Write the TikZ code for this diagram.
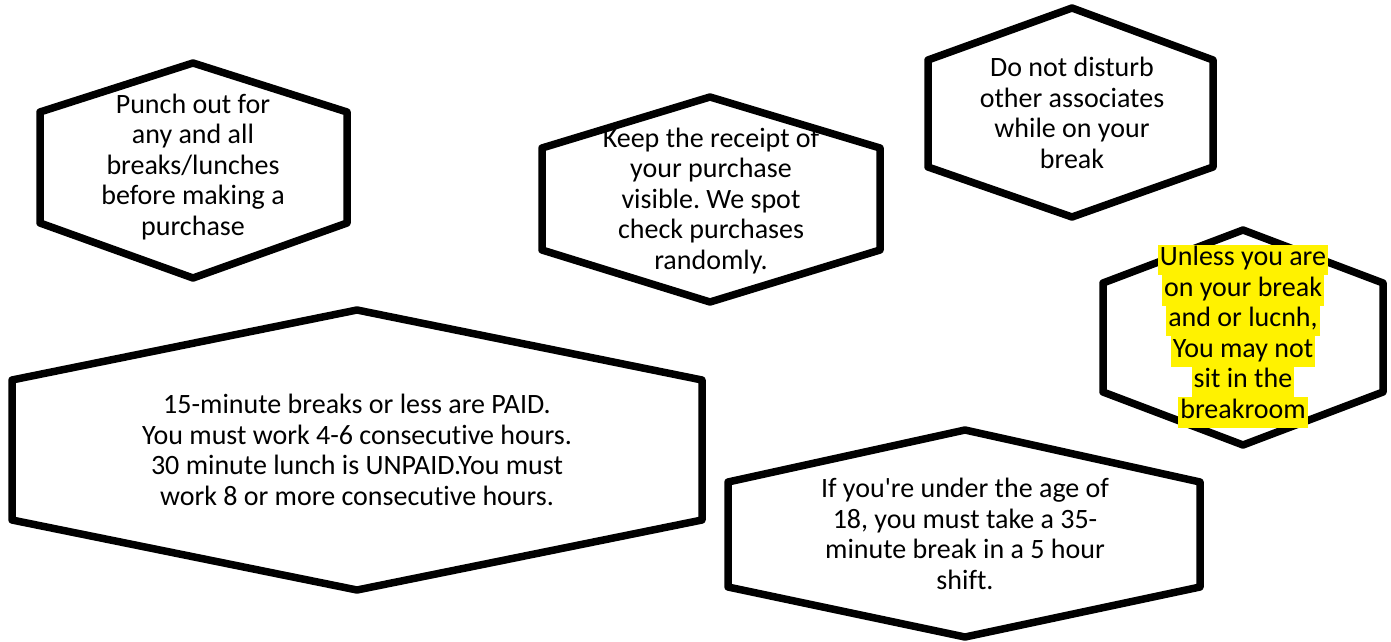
\documentclass[tikz,border=0pt]{standalone}
\usepackage{fontspec}
\setmainfont{Carlito}[Ligatures=NoCommon]
\usetikzlibrary{shadows}

% highlighted line, one box per line of text
\newcommand{\hl}[1]{{\setlength{\fboxsep}{0pt}\colorbox{yellow}{\strut\kern2pt #1\kern2pt}}}

\tikzset{
  hexa/.style={draw=black, line width=7.5pt, line join=round, fill=white,
    drop shadow={shadow xshift=1pt, shadow yshift=-3pt, opacity=0.25}},
  rule/.style={align=center, inner sep=0pt, font=\fontsize{28}{30.5}\selectfont\frenchspacing},
}

\begin{document}
\begin{tikzpicture}[x=1pt, y=-1pt]
\useasboundingbox (0,0) rectangle (1391,642);

% the six hexagons
\draw[hexa] (193,63)--(347,112)--(347,223)--(193,278)--(40,223)--(40,112)--cycle;
\draw[hexa] (710,97)--(880,148)--(880,250)--(710,302)--(542,250)--(542,148)--cycle;
\draw[hexa] (1072,8)--(1213,60)--(1213,167)--(1072,217)--(928,167)--(928,60)--cycle;
\draw[hexa] (1243,230)--(1383,283)--(1383,392)--(1243,445)--(1103,392)--(1103,283)--cycle;
\draw[hexa] (357,310)--(702,380)--(702,520)--(357,590)--(12,520)--(12,380)--cycle;
\draw[hexa] (965,430)--(1200,482)--(1200,587)--(965,637)--(728,587)--(728,482)--cycle;

% texts
\node[rule] (punch) at (193,167) {Punch out for\\any and all\\breaks/lunches\\before making a\\purchase};
\node[rule] (receipt) at (711,201) {Keep the receipt of\\your purchase\\visible. We spot\\check purchases\\randomly.};
\node[rule] (disturb) at (1072,113) {Do not disturb\\other associates\\while on your\\break};
\node[rule] (sitting) at (1243,336) {\hl{Unless you are}\\\hl{on your break}\\\hl{and or lucnh,}\\\hl{You may not}\\\hl{sit in the}\\\hl{breakroom}};
\node[rule] (paid) at (357,450) {15-minute breaks or less are PAID.\\You must work 4-6 consecutive hours.\\30 minute lunch is UNPAID.You must\\work 8 or more consecutive hours.};
\node[rule] (minors) at (965,534) {If you\textquotesingle re under the age of\\18, you must take a 35-\\minute break in a 5 hour\\shift.};
\end{tikzpicture}
\end{document}
